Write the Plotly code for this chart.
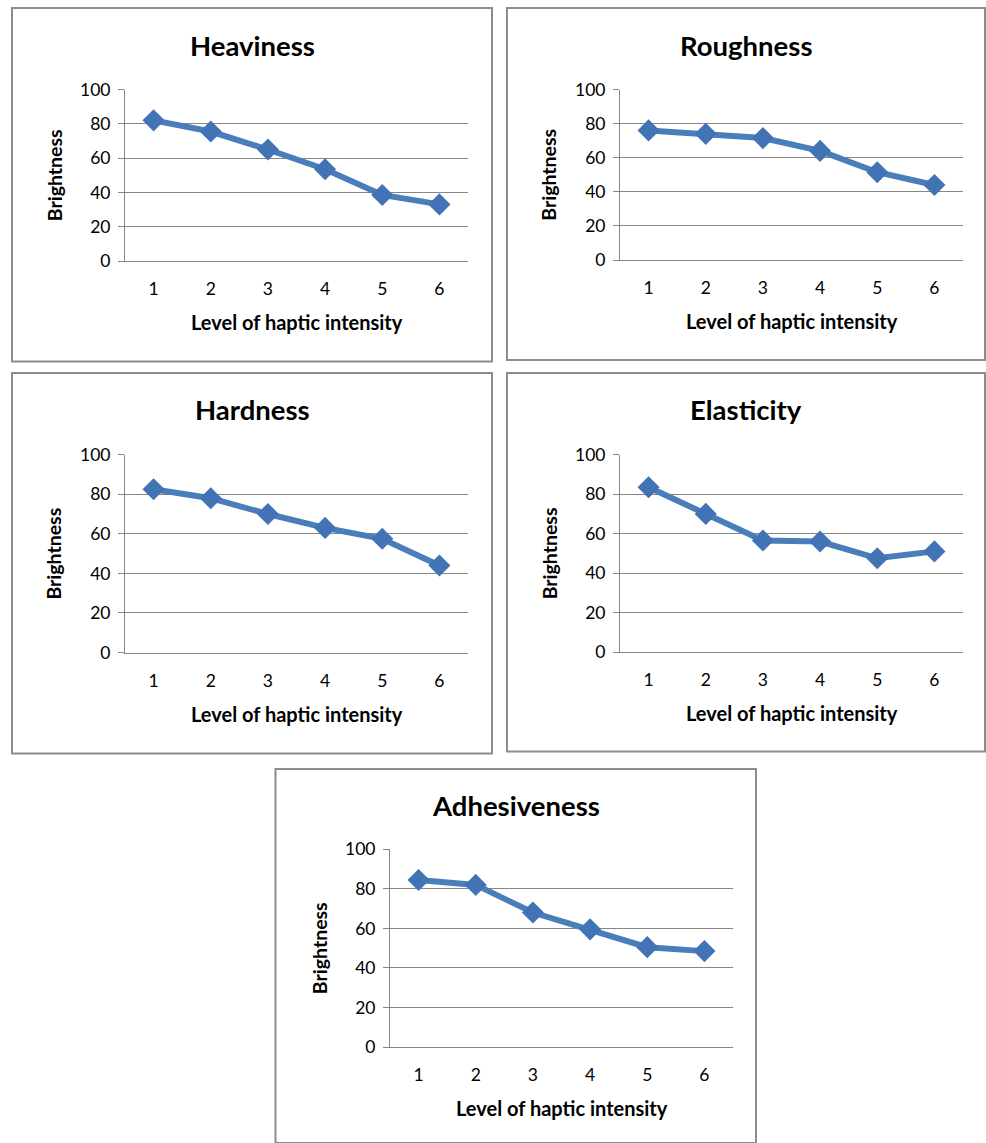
import plotly.graph_objects as go

W, H = 986, 1143

levels = [1, 2, 3, 4, 5, 6]
titles = ["Heaviness", "Roughness", "Hardness", "Elasticity", "Adhesiveness"]
heaviness = [82, 75.5, 65, 53.5, 38.5, 33]
roughness = [76, 74, 71.5, 64, 51.5, 44]
hardness = [82.5, 78, 70, 63, 57.5, 44]
elasticity = [83.5, 70, 56.5, 56, 47.5, 51]
adhesiveness = [84.5, 82, 68, 59.5, 50.5, 48.5]
y_ticks = [0, 20, 40, 60, 80, 100]
x_title = "Level of haptic intensity"
y_title = "Brightness"

series = [heaviness, roughness, hardness, elasticity, adhesiveness]

# layout in pixels: (box x0, y0, x1, y1), (plot x0, x1, ytop(100), ybottom(0))
boxes = [
    (12, 8, 492, 361.5),
    (507, 8, 985, 360),
    (12, 373, 492, 753.5),
    (507, 373, 985, 751.5),
    (275.5, 769, 756, 1143),
]
plots = [
    (125, 468, 89.5, 261),
    (620, 963, 89.5, 260),
    (125, 468, 454.7, 652.5),
    (620, 963, 454.7, 652),
    (390, 733, 849.3, 1047),
]
title_y = [45, 45, 410, 410, 805]

FONT = "Lato"
GRID = "#868686"
LINE = "#4a7ebb"
MARK = "#4274b5"

def px(x):
    return x / W

def py(y):
    return 1 - y / H

fig = go.Figure()
shapes = []
annotations = []
layout_axes = {}

for i, (vals, ttl) in enumerate(zip(series, titles)):
    n = i + 1
    xa = "x" if n == 1 else f"x{n}"
    ya = "y" if n == 1 else f"y{n}"
    xk = "xaxis" if n == 1 else f"xaxis{n}"
    yk = "yaxis" if n == 1 else f"yaxis{n}"
    bx0, by0, bx1, by1 = boxes[i]
    x0, x1, yt, yb = plots[i]

    fig.add_trace(go.Scatter(
        x=levels, y=vals, xaxis=xa, yaxis=ya, mode="lines+markers",
        line=dict(color=LINE, width=6),
        marker=dict(symbol="diamond", size=17, color=MARK),
        showlegend=False, hoverinfo="skip", cliponaxis=False,
    ))

    layout_axes[xk] = dict(
        domain=[px(x0), px(x1)], anchor=ya, range=[0.5, 6.5],
        tickmode="array", tickvals=levels, ticktext=[str(v) for v in levels],
        showgrid=False, zeroline=False, showline=True, linecolor=GRID, linewidth=1,
        ticks="", ticklabelstandoff=12, automargin=False,
        tickfont=dict(family=FONT, size=17.5, color="#000000"),
        fixedrange=True,
    )
    layout_axes[yk] = dict(
        domain=[py(yb), py(yt)], anchor=xa, range=[0, 100],
        tickmode="array", tickvals=y_ticks, ticktext=[str(v) for v in y_ticks],
        showgrid=True, gridcolor=GRID, gridwidth=1, zeroline=False,
        showline=True, linecolor=GRID, linewidth=1,
        ticks="outside", ticklen=6, tickcolor=GRID, ticklabelstandoff=4,
        automargin=False,
        tickfont=dict(family=FONT, size=17.5, color="#000000"),
        fixedrange=True,
    )

    shapes.append(dict(type="rect", xref="paper", yref="paper",
                       x0=px(bx0), x1=px(bx1), y0=py(by1), y1=py(by0),
                       line=dict(color="#8c8c8c", width=2), layer="below"))

    annotations.append(dict(text=f"<b>{ttl}</b>", xref="paper", yref="paper",
                            x=px((bx0 + bx1) / 2), y=py(title_y[i]),
                            xanchor="center", yanchor="middle", showarrow=False,
                            font=dict(family=FONT, size=27.5, color="#000000")))
    annotations.append(dict(text=f"<b>{x_title}</b>", xref="paper", yref="paper",
                            x=px((x0 + x1) / 2), y=py(yb + 61),
                            xanchor="center", yanchor="middle", showarrow=False,
                            font=dict(family=FONT, size=20, color="#000000")))
    annotations.append(dict(text=f"<b>{y_title}</b>", xref="paper", yref="paper",
                            x=px(x0 - 71), y=py((yt + yb) / 2), textangle=-90,
                            xanchor="center", yanchor="middle", showarrow=False,
                            font=dict(family=FONT, size=19.5, color="#000000")))

fig.update_layout(
    width=W, height=H, margin=dict(l=0, r=0, t=0, b=0, pad=0, autoexpand=False),
    paper_bgcolor="white", plot_bgcolor="white",
    shapes=shapes, annotations=annotations, **layout_axes,
)

fig.write_html("out.html", config={"displayModeBar": False})
